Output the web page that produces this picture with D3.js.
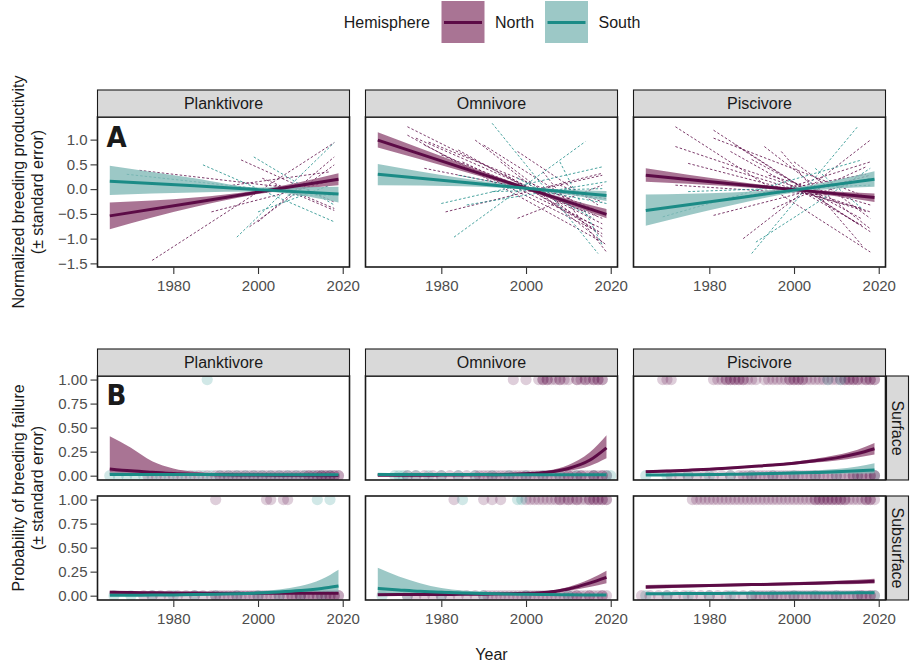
<!DOCTYPE html>
<meta charset="utf-8">
<script src="https://d3js.org/d3.v7.min.js"></script>
<style>
body { margin: 0; background: #fff; }
svg { font-family: "Liberation Sans", Arial, sans-serif; }
.axis path { display: none; }
.axis line { stroke: #333; stroke-width: 1.1px; }
.axis text { font-size: 15px; fill: #4d4d4d; font-family: "Liberation Sans", Arial, sans-serif; }
.strip rect { fill: #d9d9d9; stroke: #1a1a1a; stroke-width: 1.1px; }
.strip text { font-size: 16px; fill: #1a1a1a; }
.frame { fill: none; stroke: #1a1a1a; stroke-width: 1.6px; }
.colony { stroke-width: 0.8px; stroke-dasharray: 2.5 2; fill: none; }
.title { font-size: 16px; fill: #1a1a1a; }
.tag { font-family: "Liberation Sans Narrow", "DejaVu Sans Condensed", sans-serif; font-weight: bold; font-size: 29px; fill: #1a1a1a; }
</style>
<body></body>
<script>

// categories and ticks
var groups = ["Planktivore", "Omnivore", "Piscivore"];
var depths = ["Surface", "Subsurface"];
var hemispheres = ["North", "South"];
var yearTicks = [1980, 2000, 2020];
var prodTicks = [-1.5, -1.0, -0.5, 0.0, 0.5, 1.0];
var failTicks = [0, 0.25, 0.5, 0.75, 1];

// A: overall productivity trend, rows are [year, fit, lo, hi]
var prodFits = [
  {group: "Planktivore", hemi: "North", values: [[1965, -0.54, -0.81, -0.27], [1985, -0.27, -0.36, -0.17], [2000, -0.06, -0.10, -0.02], [2019, 0.20, 0.08, 0.32]]},
  {group: "Planktivore", hemi: "South", values: [[1965, 0.16, -0.12, 0.47], [1985, 0.07, -0.07, 0.22], [2000, -0.01, -0.05, 0.035], [2019, -0.10, -0.27, 0.05]]},
  {group: "Omnivore", hemi: "North", values: [[1965, 0.99, 0.84, 1.15], [1985, 0.43, 0.36, 0.51], [2000, 0.02, -0.02, 0.05], [2019, -0.51, -0.59, -0.40]]},
  {group: "Omnivore", hemi: "South", values: [[1965, 0.30, 0.08, 0.51], [1985, 0.14, 0.06, 0.22], [2000, 0.02, -0.01, 0.05], [2019, -0.13, -0.24, -0.04]]},
  {group: "Piscivore", hemi: "North", values: [[1965, 0.28, 0.15, 0.42], [1985, 0.11, 0.06, 0.17], [2000, -0.01, -0.04, 0.02], [2019, -0.17, -0.26, -0.09]]},
  {group: "Piscivore", hemi: "South", values: [[1965, -0.43, -0.74, -0.11], [1985, -0.20, -0.33, -0.07], [2000, -0.02, -0.07, 0.03], [2019, 0.20, 0.05, 0.36]]}
];

// A: single-colony trends [group, hemi, year1, value1, year2, value2]
var colonyTrends = [
  ["Planktivore", "North", 1975, -1.44, 2018, 0.94],
  ["Planktivore", "North", 1996, 0.59, 2018, -0.26],
  ["Planktivore", "North", 1972, 0.38, 2009, 0.01],
  ["Planktivore", "North", 1998, -0.76, 2018, 0.49],
  ["Planktivore", "North", 2000, -0.66, 2018, 0.65],
  ["Planktivore", "North", 1989, -0.46, 2018, 0.18],
  ["Planktivore", "North", 2004, 0.08, 2018, -0.43],
  ["Planktivore", "North", 1994, 0.08, 2017, 0.35],
  ["Planktivore", "North", 2001, 0.22, 2018, -0.39],
  ["Planktivore", "South", 1995, -0.97, 2018, 0.94],
  ["Planktivore", "South", 1987, 0.49, 2018, -0.66],
  ["Planktivore", "South", 1999, 0.65, 2018, -0.32],
  ["Planktivore", "South", 1969, 0.30, 2000, 0.01],
  ["Planktivore", "South", 2007, -0.12, 2018, -0.12],
  ["Planktivore", "South", 2000, -0.46, 2017, 0.08],
  ["Omnivore", "North", 1972, 1.26, 2018, -0.70],
  ["Omnivore", "North", 1972, 1.09, 2018, -1.07],
  ["Omnivore", "North", 1976, 0.89, 2017, -0.86],
  ["Omnivore", "North", 1980, 0.69, 2018, -0.59],
  ["Omnivore", "North", 1988, 0.99, 2018, -0.96],
  ["Omnivore", "North", 1998, -0.59, 2018, 0.08],
  ["Omnivore", "North", 1981, -0.46, 2018, 0.32],
  ["Omnivore", "North", 1984, 0.79, 2016, -0.73],
  ["Omnivore", "North", 1994, 0.55, 2019, -1.13],
  ["Omnivore", "North", 1998, 0.76, 2017, -0.32],
  ["Omnivore", "North", 2004, 0.35, 2019, -1.27],
  ["Omnivore", "North", 1976, 0.42, 2008, -0.12],
  ["Omnivore", "North", 1990, 0.89, 2017, -0.56],
  ["Omnivore", "North", 2001, -0.05, 2018, 0.28],
  ["Omnivore", "North", 2008, 0.08, 2018, -0.26],
  ["Omnivore", "North", 1974, 1.03, 2014, -0.46],
  ["Omnivore", "North", 1993, 0.08, 2019, -0.19],
  ["Omnivore", "North", 1985, 0.55, 2018, -0.80],
  ["Omnivore", "North", 1995, 0.30, 2018, -0.90],
  ["Omnivore", "North", 1977, 0.95, 2016, -0.40],
  ["Omnivore", "South", 1992, 1.33, 2017, -1.30],
  ["Omnivore", "South", 1983, -0.97, 2014, 0.96],
  ["Omnivore", "South", 1980, -0.29, 2018, 0.45],
  ["Omnivore", "South", 1986, -0.32, 2019, 0.15],
  ["Omnivore", "South", 1992, -0.05, 2018, 0.01],
  ["Omnivore", "South", 1998, 0.22, 2016, -0.59],
  ["Omnivore", "South", 1984, 0.28, 2019, -0.29],
  ["Omnivore", "South", 2008, 0.55, 2018, -1.13],
  ["Piscivore", "North", 1972, 1.26, 2018, -1.27],
  ["Piscivore", "North", 1981, 1.19, 2018, -0.86],
  ["Piscivore", "North", 1972, 0.86, 2018, -0.46],
  ["Piscivore", "North", 1988, -1.00, 2018, 0.99],
  ["Piscivore", "North", 1993, 0.86, 2018, -0.80],
  ["Piscivore", "North", 1981, -0.53, 2018, 0.28],
  ["Piscivore", "North", 1975, 0.52, 2016, -0.39],
  ["Piscivore", "North", 2000, 0.55, 2018, -0.59],
  ["Piscivore", "North", 1981, 1.03, 2016, -0.12],
  ["Piscivore", "North", 1985, 0.76, 2016, -0.73],
  ["Piscivore", "North", 1994, 0.28, 2018, -0.32],
  ["Piscivore", "North", 1972, 0.08, 2008, -0.12],
  ["Piscivore", "North", 1993, -0.12, 2018, 0.55],
  ["Piscivore", "North", 1997, 0.76, 2016, -1.13],
  ["Piscivore", "North", 2004, -0.12, 2018, 0.22],
  ["Piscivore", "North", 1983, 0.45, 2017, -0.45],
  ["Piscivore", "North", 1990, 0.60, 2016, -0.60],
  ["Piscivore", "North", 1978, -0.30, 2017, 0.30],
  ["Piscivore", "North", 1995, -0.40, 2017, 0.45],
  ["Piscivore", "North", 1986, 0.90, 2015, -0.70],
  ["Piscivore", "South", 1990, -1.30, 2015, 1.26],
  ["Piscivore", "South", 1969, -0.56, 2016, 0.59],
  ["Piscivore", "South", 1991, -1.07, 2018, 0.42],
  ["Piscivore", "South", 2005, 0.42, 2016, -0.39],
  ["Piscivore", "South", 1975, -0.05, 2018, 0.08]
];

// B: probability of failure, sampled at fitYears
var fitYears = [1965, 1970, 1975, 1980, 1985, 1990, 1995, 2000, 2005, 2010, 2015, 2019];
var failFits = [
  {group: "Planktivore", depth: "Surface", hemi: "North",
   fit: [0.07, 0.05, 0.035, 0.022, 0.015, 0.01, 0.008, 0.006, 0.005, 0.004, 0.004, 0.003],
   lo: [0.012, 0.01, 0.009, 0.008, 0.006, 0.005, 0.004, 0.003, 0.002, 0.002, 0.001, 0.001],
   hi: [0.41, 0.29, 0.15, 0.075, 0.04, 0.025, 0.018, 0.014, 0.012, 0.012, 0.013, 0.014]},
  {group: "Planktivore", depth: "Surface", hemi: "South",
   fit: [0.012, 0.012, 0.012, 0.011, 0.011, 0.011, 0.01, 0.01, 0.01, 0.009, 0.009, 0.009],
   lo: [0.004, 0.005, 0.005, 0.005, 0.006, 0.006, 0.006, 0.005, 0.005, 0.004, 0.004, 0.003],
   hi: [0.035, 0.03, 0.025, 0.022, 0.02, 0.018, 0.017, 0.017, 0.018, 0.019, 0.021, 0.024]},
  {group: "Planktivore", depth: "Subsurface", hemi: "North",
   fit: [0.035, 0.032, 0.03, 0.028, 0.027, 0.026, 0.025, 0.025, 0.025, 0.025, 0.025, 0.025],
   lo: [0.02, 0.02, 0.02, 0.02, 0.02, 0.019, 0.019, 0.018, 0.018, 0.017, 0.016, 0.015],
   hi: [0.05, 0.045, 0.04, 0.037, 0.035, 0.033, 0.032, 0.033, 0.034, 0.036, 0.038, 0.04]},
  {group: "Planktivore", depth: "Subsurface", hemi: "South",
   fit: [0.004, 0.005, 0.006, 0.008, 0.011, 0.015, 0.02, 0.027, 0.038, 0.053, 0.074, 0.1],
   lo: [0.001, 0.001, 0.002, 0.003, 0.004, 0.005, 0.007, 0.01, 0.015, 0.02, 0.025, 0.03],
   hi: [0.015, 0.016, 0.017, 0.019, 0.022, 0.026, 0.032, 0.045, 0.065, 0.1, 0.17, 0.27]},
  {group: "Omnivore", depth: "Surface", hemi: "North",
   fit: [0.004, 0.005, 0.005, 0.006, 0.007, 0.009, 0.012, 0.02, 0.035, 0.075, 0.16, 0.29],
   lo: [0.001, 0.001, 0.002, 0.002, 0.003, 0.004, 0.006, 0.012, 0.025, 0.05, 0.1, 0.18],
   hi: [0.012, 0.013, 0.014, 0.015, 0.016, 0.018, 0.022, 0.03, 0.05, 0.11, 0.24, 0.42]},
  {group: "Omnivore", depth: "Surface", hemi: "South",
   fit: [0.012, 0.012, 0.012, 0.011, 0.011, 0.011, 0.01, 0.01, 0.01, 0.01, 0.009, 0.009],
   lo: [0.004, 0.005, 0.006, 0.006, 0.006, 0.006, 0.006, 0.006, 0.006, 0.005, 0.005, 0.004],
   hi: [0.03, 0.027, 0.024, 0.021, 0.019, 0.017, 0.016, 0.016, 0.016, 0.017, 0.018, 0.02]},
  {group: "Omnivore", depth: "Subsurface", hemi: "North",
   fit: [0.01, 0.011, 0.012, 0.013, 0.014, 0.016, 0.019, 0.024, 0.035, 0.07, 0.13, 0.19],
   lo: [0.003, 0.004, 0.005, 0.006, 0.007, 0.009, 0.012, 0.017, 0.026, 0.05, 0.09, 0.13],
   hi: [0.03, 0.028, 0.026, 0.025, 0.025, 0.026, 0.028, 0.033, 0.047, 0.09, 0.17, 0.26]},
  {group: "Omnivore", depth: "Subsurface", hemi: "South",
   fit: [0.076, 0.06, 0.045, 0.035, 0.028, 0.022, 0.018, 0.015, 0.012, 0.01, 0.008, 0.007],
   lo: [0.02, 0.018, 0.015, 0.013, 0.012, 0.01, 0.009, 0.008, 0.006, 0.004, 0.003, 0.002],
   hi: [0.29, 0.2, 0.13, 0.08, 0.055, 0.04, 0.03, 0.025, 0.02, 0.018, 0.016, 0.015]},
  {group: "Piscivore", depth: "Surface", hemi: "North",
   fit: [0.04, 0.048, 0.057, 0.067, 0.08, 0.095, 0.11, 0.13, 0.155, 0.185, 0.23, 0.28],
   lo: [0.028, 0.036, 0.045, 0.056, 0.069, 0.084, 0.099, 0.116, 0.136, 0.158, 0.19, 0.22],
   hi: [0.055, 0.062, 0.07, 0.08, 0.092, 0.107, 0.122, 0.145, 0.175, 0.215, 0.27, 0.34]},
  {group: "Piscivore", depth: "Surface", hemi: "South",
   fit: [0.007, 0.008, 0.01, 0.012, 0.015, 0.018, 0.022, 0.027, 0.033, 0.04, 0.05, 0.06],
   lo: [0.002, 0.003, 0.004, 0.005, 0.007, 0.009, 0.012, 0.015, 0.018, 0.02, 0.022, 0.025],
   hi: [0.02, 0.021, 0.022, 0.024, 0.027, 0.031, 0.036, 0.045, 0.055, 0.07, 0.095, 0.13]},
  {group: "Piscivore", depth: "Subsurface", hemi: "North",
   fit: [0.09, 0.095, 0.1, 0.105, 0.11, 0.115, 0.12, 0.125, 0.13, 0.136, 0.143, 0.15],
   lo: [0.07, 0.077, 0.084, 0.09, 0.096, 0.101, 0.106, 0.11, 0.114, 0.118, 0.122, 0.126],
   hi: [0.11, 0.115, 0.118, 0.121, 0.125, 0.129, 0.134, 0.14, 0.147, 0.155, 0.165, 0.175]},
  {group: "Piscivore", depth: "Subsurface", hemi: "South",
   fit: [0.02, 0.021, 0.022, 0.023, 0.024, 0.025, 0.026, 0.027, 0.028, 0.029, 0.03, 0.031],
   lo: [0.012, 0.014, 0.016, 0.018, 0.019, 0.02, 0.021, 0.021, 0.021, 0.021, 0.021, 0.02],
   hi: [0.03, 0.03, 0.03, 0.03, 0.03, 0.031, 0.032, 0.033, 0.035, 0.037, 0.04, 0.043]}
];

// B: observed colony-years, failed (1) or not (0)
var failPoints = [
  {group: "Planktivore", depth: "Surface", hemi: "South", outcome: 1, years: [1988]},
  {group: "Planktivore", depth: "Surface", hemi: "South", outcome: 0, years: [1965, 1967, 1969, 1971, 1973, 1975, 1977, 1979, 1981, 1983, 1985, 1987, 1989, 1991, 1993, 1995, 1997, 1999, 2001, 2003, 2005, 2007, 2009, 2011, 2013, 2015, 2017]},
  {group: "Planktivore", depth: "Surface", hemi: "North", outcome: 0, years: [1974, 1976, 1978, 1980, 1982, 1984, 1986, 1988, 1990, 1991, 1992, 1993, 1994, 1995, 1996, 1997, 1998, 1999, 2000, 2001, 2002, 2003, 2004, 2005, 2006, 2007, 2008, 2009, 2010, 2011, 2012, 2013, 2014, 2015, 2016, 2017, 2018, 2019, 2012, 2014, 2015, 2016, 2017, 2018, 2019]},
  {group: "Planktivore", depth: "Subsurface", hemi: "North", outcome: 1, years: [1990, 2002, 2003, 2006, 2007]},
  {group: "Planktivore", depth: "Subsurface", hemi: "South", outcome: 1, years: [2014, 2017]},
  {group: "Planktivore", depth: "Subsurface", hemi: "South", outcome: 0, years: [1966, 1970, 1975, 1980, 1985, 1990, 1995, 2000, 2005, 2010, 2015]},
  {group: "Planktivore", depth: "Subsurface", hemi: "North", outcome: 0, years: [1973, 1975, 1977, 1979, 1981, 1983, 1985, 1987, 1989, 1990, 1991, 1992, 1993, 1994, 1995, 1996, 1997, 1998, 1999, 2000, 2001, 2002, 2003, 2004, 2005, 2006, 2007, 2008, 2009, 2010, 2011, 2012, 2013, 2014, 2015, 2016, 2017, 2018, 2019, 2008, 2010, 2012, 2014, 2016, 2017, 2018, 2019]},
  {group: "Omnivore", depth: "Surface", hemi: "North", outcome: 1, years: [1997, 2000, 2003, 2004, 2005, 2006, 2007, 2008, 2009, 2010, 2012, 2013, 2014, 2015, 2016, 2017, 2018, 2018, 2017, 2016, 2014, 2012, 2008, 2005, 2004]},
  {group: "Omnivore", depth: "Surface", hemi: "South", outcome: 0, years: [1969, 1970, 1971, 1972, 1974, 1977, 1980, 1984, 1988, 1992, 1996, 2000, 2004, 2008, 2012, 2016, 2019, 2020]},
  {group: "Omnivore", depth: "Surface", hemi: "North", outcome: 0, years: [1972, 1974, 1976, 1978, 1980, 1982, 1984, 1986, 1988, 1989, 1990, 1991, 1992, 1993, 1994, 1995, 1996, 1997, 1998, 1999, 2000, 2001, 2002, 2003, 2004, 2005, 2006, 2007, 2008, 2009, 2010, 2011, 2012, 2013, 2014, 2015, 2016, 2017, 2018, 2019, 2010, 2013, 2016, 2018]},
  {group: "Omnivore", depth: "Subsurface", hemi: "North", outcome: 1, years: [1983, 1990, 1992, 1994, 2000, 2001, 2002, 2003, 2004, 2005, 2006, 2007, 2008, 2009, 2010, 2011, 2012, 2013, 2014, 2015, 2016, 2017, 2018, 2019, 2015, 2016, 2017, 2018, 2019, 2012, 2010, 2008]},
  {group: "Omnivore", depth: "Subsurface", hemi: "South", outcome: 1, years: [1985, 1998, 1999]},
  {group: "Omnivore", depth: "Subsurface", hemi: "South", outcome: 0, years: [1966, 1972, 1980, 1990, 2000, 2010]},
  {group: "Omnivore", depth: "Subsurface", hemi: "North", outcome: 0, years: [1972, 1974, 1976, 1978, 1980, 1982, 1984, 1986, 1988, 1990, 1991, 1992, 1993, 1994, 1995, 1996, 1997, 1998, 1999, 2000, 2001, 2002, 2003, 2004, 2005, 2006, 2007, 2008, 2009, 2010, 2011, 2012, 2013, 2014, 2015, 2016, 2017, 2018, 2019, 2012, 2015, 2018]},
  {group: "Piscivore", depth: "Surface", hemi: "North", outcome: 1, years: [1969, 1970, 1971, 1981, 1982, 1983, 1984, 1985, 1986, 1987, 1988, 1989, 1990, 1991, 1993, 1994, 1995, 1996, 1997, 1998, 1999, 2000, 2001, 2002, 2003, 2004, 2005, 2006, 2007, 2008, 2009, 2010, 2011, 2012, 2013, 2014, 2015, 2016, 2017, 2018, 2019, 1984, 1985, 1986, 1987, 1988, 1999, 2000, 2001, 2002, 2012, 2013, 2014, 2015, 2017, 2018, 2019]},
  {group: "Piscivore", depth: "Surface", hemi: "South", outcome: 1, years: [2008, 2011]},
  {group: "Piscivore", depth: "Surface", hemi: "South", outcome: 0, years: [1965, 1970, 1975, 1980, 1985, 1990, 1995, 2000, 2005, 2010, 2015, 2019]},
  {group: "Piscivore", depth: "Surface", hemi: "North", outcome: 0, years: [1971, 1973, 1975, 1977, 1979, 1981, 1983, 1985, 1987, 1988, 1989, 1990, 1991, 1992, 1993, 1994, 1995, 1996, 1997, 1998, 1999, 2000, 2001, 2002, 2003, 2004, 2005, 2006, 2007, 2008, 2009, 2010, 2011, 2012, 2013, 2014, 2015, 2016, 2017, 2018, 2019, 2014, 2016, 2018, 2019]},
  {group: "Piscivore", depth: "Subsurface", hemi: "North", outcome: 1, years: [1976, 1977, 1978, 1979, 1980, 1981, 1982, 1983, 1984, 1985, 1986, 1987, 1988, 1989, 1990, 1991, 1992, 1993, 1994, 1995, 1996, 1997, 1998, 1999, 2000, 2001, 2002, 2003, 2004, 2005, 2006, 2007, 2008, 2009, 2010, 2011, 2012, 2013, 2014, 2015, 2016, 2017, 2018, 2019, 2005, 2006, 2007, 2008, 2009, 2010, 2011, 2012, 2017, 2018]},
  {group: "Piscivore", depth: "Subsurface", hemi: "South", outcome: 0, years: [1965, 1970, 1975, 1980, 1985, 1990, 1995, 2000, 2005, 2010, 2015, 2019]},
  {group: "Piscivore", depth: "Subsurface", hemi: "North", outcome: 0, years: [1964, 1966, 1968, 1970, 1972, 1974, 1976, 1978, 1980, 1982, 1984, 1986, 1988, 1990, 1991, 1992, 1993, 1994, 1995, 1996, 1997, 1998, 1999, 2000, 2001, 2002, 2003, 2004, 2005, 2006, 2007, 2008, 2009, 2010, 2011, 2012, 2013, 2014, 2015, 2016, 2017, 2018, 2019, 2016, 2018]}
];

// layout
var panelX = [97.5, 365.5, 633.5], panelW = 252;
var stripH = 27;
var aStripY = 90, aTop = 117, aH = 150;
var bStripY = 349, bTops = [376, 496], bH = 104;
var rStripX = 886.5, rStripW = 22;

var lineColor = d3.scaleOrdinal().domain(hemispheres).range(["#5c0b46", "#1b8b86"]);
var ribbonColor = d3.scaleOrdinal().domain(hemispheres).range(["#935179", "#83bab8"]);
var ribbonOpacity = 0.8;

var svg = d3.select("body").append("svg")
    .attr("width", 912)
    .attr("height", 663);

var defs = svg.append("defs");

// scales
var x = d3.scaleLinear().domain([1962.1, 2021.6]).range([0, panelW]);
var yA = d3.scaleLinear().domain([-1.573, 1.457]).range([aH, 0]);
var yB = d3.scaleLinear().domain([-0.045, 1.037]).range([bH, 0]);

var xAxis = d3.axisBottom(x).tickValues(yearTicks).tickFormat(d3.format("d")).tickSize(7).tickPadding(6);

function addClip(id, h) {
  defs.append("clipPath").attr("id", id)
    .append("rect").attr("width", panelW).attr("height", h);
}

function addStrip(gx, gy, w, h, label, vertical) {
  var s = svg.append("g").attr("class", "strip")
    .attr("transform", "translate(" + gx + "," + gy + ")");
  s.append("rect").attr("width", w).attr("height", h);
  if (vertical) {
    s.append("text")
      .attr("text-anchor", "middle")
      .attr("transform", "translate(" + (w / 2 - 5.5) + "," + (h / 2) + ") rotate(90)")
      .text(label);
  } else {
    s.append("text")
      .attr("text-anchor", "middle")
      .attr("x", w / 2)
      .attr("y", h / 2 + 5.6)
      .text(label);
  }
}

// ---------- panel A ----------
groups.forEach(function(grp, i) {
  var g = svg.append("g").attr("transform", "translate(" + panelX[i] + "," + aTop + ")");
  addClip("clipA" + i, aH);
  var plot = g.append("g").attr("clip-path", "url(#clipA" + i + ")");

  plot.selectAll(".colony")
    .data(colonyTrends.filter(d => d[0] == grp))
    .enter().append("line")
    .attr("class", "colony")
    .attr("x1", d => x(d[2])).attr("y1", d => yA(d[3]))
    .attr("x2", d => x(d[4])).attr("y2", d => yA(d[5]))
    .style("stroke", d => lineColor(d[1]));

  var fits = prodFits.filter(d => d.group == grp);

  var area = d3.area().curve(d3.curveMonotoneX)
    .x(d => x(d[0])).y0(d => yA(d[2])).y1(d => yA(d[3]));

  plot.selectAll(".ribbon")
    .data(fits).enter().append("path")
    .attr("class", "ribbon")
    .attr("d", d => area(d.values))
    .style("fill", d => ribbonColor(d.hemi))
    .style("opacity", ribbonOpacity);

  var line = d3.line().x(d => x(d[0])).y(d => yA(d[1]));

  plot.selectAll(".trend")
    .data(fits).enter().append("path")
    .attr("class", "trend")
    .attr("d", d => line(d.values))
    .style("fill", "none")
    .style("stroke", d => lineColor(d.hemi))
    .style("stroke-width", 3);

  g.append("rect").attr("class", "frame").attr("width", panelW).attr("height", aH);

  g.append("g").attr("class", "x axis")
    .attr("transform", "translate(0," + aH + ")")
    .call(xAxis);

  if (i == 0) {
    g.append("g").attr("class", "y axis")
      .call(d3.axisLeft(yA).tickValues(prodTicks).tickFormat(d3.format(".1f")).tickSize(7).tickPadding(3));
    g.append("text").attr("class", "tag").attr("x", 9).attr("y", 30).text("A");
  }

  addStrip(panelX[i], aStripY, panelW, stripH, grp, false);
});

// ---------- panel B ----------
groups.forEach(function(grp, i) {
  depths.forEach(function(dep, j) {
    var g = svg.append("g").attr("transform", "translate(" + panelX[i] + "," + bTops[j] + ")");
    addClip("clipB" + i + j, bH);
    var plot = g.append("g").attr("clip-path", "url(#clipB" + i + j + ")");

    var pts = [];
    failPoints.filter(d => d.group == grp && d.depth == dep).forEach(function(d) {
      d.years.forEach(function(yr) { pts.push({year: yr, outcome: d.outcome, hemi: d.hemi}); });
    });

    plot.selectAll(".obs")
      .data(pts).enter().append("circle")
      .attr("class", "obs")
      .attr("cx", d => x(d.year))
      .attr("cy", d => yB(d.outcome))
      .attr("r", 5.6)
      .style("fill", d => lineColor(d.hemi))
      .style("fill-opacity", 0.2);

    var fits = failFits.filter(d => d.group == grp && d.depth == dep);

    var area = d3.area().curve(d3.curveMonotoneX)
      .x((d, k) => x(fitYears[k])).y0(d => yB(d[0])).y1(d => yB(d[1]));
    var line = d3.line().curve(d3.curveMonotoneX)
      .x((d, k) => x(fitYears[k])).y(d => yB(d));

    plot.selectAll(".ribbon")
      .data(fits).enter().append("path")
      .attr("class", "ribbon")
      .attr("d", d => area(d.lo.map((v, k) => [v, d.hi[k]])))
      .style("fill", d => ribbonColor(d.hemi))
      .style("opacity", ribbonOpacity);

    plot.selectAll(".trend")
      .data(fits).enter().append("path")
      .attr("class", "trend")
      .attr("d", d => line(d.fit))
      .style("fill", "none")
      .style("stroke", d => lineColor(d.hemi))
      .style("stroke-width", 3);

    g.append("rect").attr("class", "frame").attr("width", panelW).attr("height", bH);

    if (j == 1) {
      g.append("g").attr("class", "x axis")
        .attr("transform", "translate(0," + bH + ")")
        .call(xAxis);
    }

    if (i == 0) {
      g.append("g").attr("class", "y axis")
        .call(d3.axisLeft(yB).tickValues(failTicks).tickFormat(d3.format(".2f")).tickSize(7).tickPadding(3));
      if (j == 0) g.append("text").attr("class", "tag").attr("x", 9).attr("y", 29).text("B");
    }

    if (i == 2) addStrip(rStripX, bTops[j], rStripW, bH, dep, true);
  });
  addStrip(panelX[i], bStripY, panelW, stripH, grp, false);
});

// axis titles
function yTitle(cy, lines) {
  svg.append("text").attr("class", "title").attr("text-anchor", "middle")
    .attr("transform", "translate(24," + cy + ") rotate(-90)").text(lines[0]);
  svg.append("text").attr("class", "title").attr("text-anchor", "middle")
    .attr("transform", "translate(43," + cy + ") rotate(-90)").text(lines[1]);
}
yTitle(192, ["Normalized breeding productivity", "(\u00b1 standard error)"]);
yTitle(488, ["Probability of breeding failure", "(\u00b1 standard error)"]);

svg.append("text").attr("class", "title")
  .attr("text-anchor", "middle")
  .attr("x", 491.5).attr("y", 660)
  .text("Year");

// legend
var legend = svg.append("g");
legend.append("text").attr("class", "title")
  .attr("text-anchor", "end").attr("x", 430).attr("y", 28)
  .text("Hemisphere");

var keyX = [441.5, 545];
hemispheres.forEach(function(h, k) {
  var key = legend.append("g").attr("transform", "translate(" + keyX[k] + ",1)");
  key.append("rect").attr("width", 43).attr("height", 42)
    .style("fill", ribbonColor(h)).style("opacity", ribbonOpacity);
  key.append("line").attr("x1", 2.5).attr("x2", 40.5).attr("y1", 21.5).attr("y2", 21.5)
    .style("stroke", lineColor(h)).style("stroke-width", 3);
  key.append("text").attr("class", "title")
    .attr("x", 53.5).attr("y", 27)
    .text(h);
});

</script>
